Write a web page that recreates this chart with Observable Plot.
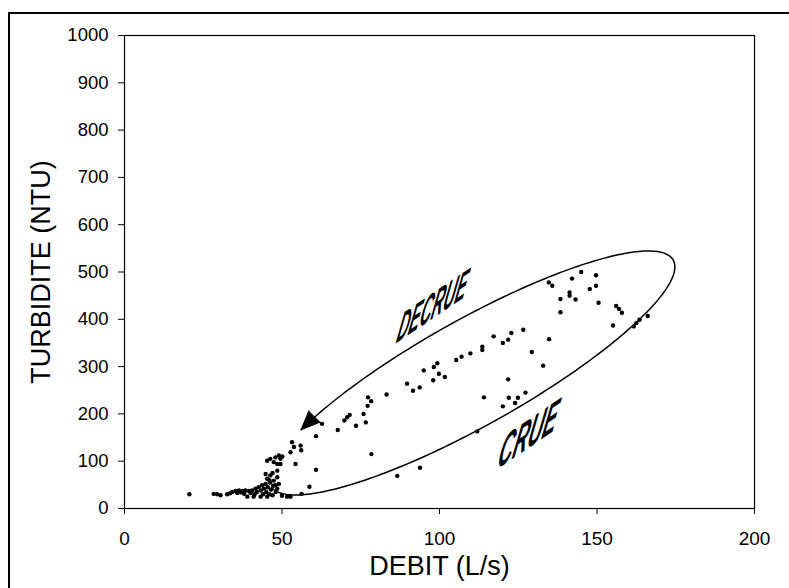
<!DOCTYPE html>
<html><head><meta charset="utf-8">
<script src="https://cdn.jsdelivr.net/npm/d3@7"></script>
<script src="https://cdn.jsdelivr.net/npm/@observablehq/plot@0.6"></script>
<style>
body{margin:0;background:#fff}
#wrap{position:relative;width:789px;height:588px;overflow:hidden;background:#fff}
#chart{position:absolute;left:0;top:0}
#border{position:absolute;left:8px;top:12px;width:800px;height:600px;border-top:2px solid #000;border-left:2px solid #000;pointer-events:none}
</style></head><body>
<div id="wrap"><div id="chart"></div><div id="border"></div></div>
<script>
// Discharge (L/s)
const debit = [
  20.6,28.3,29.4,30.5,32.6,33.5,34.2,35.2,35.8,36.3,37.0,37.4,38.0,38.4,39.0,39.5,40.0,40.5,41.0,41.3,
  41.6,42.0,42.6,43.2,43.3,43.7,44.0,44.3,44.8,45.0,45.3,45.5,46.0,46.2,46.5,47.0,47.2,47.9,48.0,49.0,
  48.5,44.8,45.3,46.3,47.4,48.5,46.0,47.0,45.3,46.3,47.9,49.0,49.5,48.5,47.4,49.5,48.5,50.0,51.6,52.7,
  53.2,53.8,52.7,54.3,55.9,56.1,50.1,56.2,58.7,60.8,60.8,62.7,67.7,69.8,70.7,71.5,73.5,76.6,75.9,77.2,
  78.3,77.3,78.4,83.2,86.6,89.7,91.6,93.7,93.8,95.0,98.0,98.2,99.3,99.8,101.7,105.3,107.0,109.8,112.0,113.6,
  113.6,114.1,117.2,120.1,120.1,121.8,121.8,122.8,122.0,124.0,124.9,126.6,127.3,129.3,132.9,134.8,134.7,135.8,138.4,138.4,
  141.3,141.3,142.1,143.2,145.0,147.7,149.7,149.7,150.5,155.1,156.1,157.0,157.9,161.7,162.5,163.5,166.1
];
// Turbidity (NTU)
const turbidite = [
  30,31,30,28,30,32,35,37,33,38,34,37,31,38,25,37,33,38,25,30,
  42,35,45,25,38,49,30,42,52,35,25,45,30,55,40,28,48,49,35,52,
  42,73,63,70,59,66,60,75,101,105,108,112,105,94,98,94,80,27,25,25,
  140,130,119,94,133,123,110,31,46,82,153,179,166,186,193,198,175,182,200,217,
  227,235,115,241,69,264,249,256,86,292,271,299,307,285,278,314,321,328,163,342,
  335,235,364,350,216,357,273,371,234,223,234,378,245,331,302,358,478,471,443,415,
  457,450,486,442,500,464,493,471,435,387,428,422,414,385,392,399,407
];
const xTicks = [0, 50, 100, 150, 200];
const yTicks = [0, 100, 200, 300, 400, 500, 600, 700, 800, 900, 1000];
const xTitle = "DEBIT (L/s)";
const yTitle = "TURBIDITE (NTU)";
// Hysteresis annotations (position in data units, font size, horizontal squeeze)
const noteText = ["DECRUE", "CRUE"];
const noteDebit = [97.9, 128.3];
const noteTurb = [427, 156];
const noteSize = [37, 41];
const noteSqueeze = [0.44, 0.5];
// Hysteresis loop (ellipse in data units: centre + conjugate semi-axes), swept angle range in degrees
const loopCentre = [110.3, 286.5];
const loopAxisA = [63.9, 238.7];
const loopAxisB = [8.22, -97.7];
const loopStart = 178, loopEnd = -140;

const points = debit.map((d, i) => ({debit: d, turbidite: turbidite[i]}));
const notes = noteText.map((t, i) => ({t, x: noteDebit[i], y: noteTurb[i], s: noteSize[i]}));
const N = 240;
const loop = d3.range(N + 1).map(k => {
  const p = (loopStart + (loopEnd - loopStart) * k / N) * Math.PI / 180;
  return {
    x: loopCentre[0] + Math.cos(p) * loopAxisA[0] + Math.sin(p) * loopAxisB[0],
    y: loopCentre[1] + Math.cos(p) * loopAxisA[1] + Math.sin(p) * loopAxisB[1]
  };
});
const tip = loop[loop.length - 1];

const plot = Plot.plot({
  width: 789, height: 588,
  marginLeft: 124, marginRight: 35, marginTop: 35, marginBottom: 80,
  style: {fontFamily: "'Liberation Sans', Arial, sans-serif", background: "white", color: "black"},
  x: {domain: [0, 200]},
  y: {domain: [0, 1000]},
  marks: [
    Plot.frame({stroke: "black", strokeWidth: 1.2}),
    Plot.axisX({ticks: xTicks, tickSize: 6, tickPadding: 17, fontSize: 19, label: null, tickFormat: d => String(d)}),
    Plot.axisY({ticks: yTicks, tickSize: 6, tickPadding: 10, fontSize: 18.5, label: null, tickFormat: d => String(d)}),
    Plot.text([xTitle], {frameAnchor: "bottom", lineAnchor: "middle", textAnchor: "middle", dy: 58, fontSize: 27}),
    Plot.text([yTitle], {frameAnchor: "left", lineAnchor: "middle", textAnchor: "middle", dx: -83, rotate: -90, fontSize: 27}),
    Plot.line(loop, {x: "x", y: "y", stroke: "black", strokeWidth: 1.5}),
    Plot.vector([tip], {x: "x", y: "y", length: 19, r: 8, rotate: 225, anchor: "end", shape: "spike", fill: "black", stroke: "black", strokeWidth: 1}),
    Plot.dot(points, {x: "debit", y: "turbidite", r: 2.2, fill: "black", stroke: "none"}),
    Plot.text(notes, {x: "x", y: "y", text: "t", fontSize: "s", fontWeight: "bold", fontStyle: "italic", fill: "black", lineAnchor: "middle"})
  ]
});
d3.select(plot).selectAll("text").filter(function() { return noteText.includes(this.textContent); })
  .attr("transform", function() {
    const i = noteText.indexOf(this.textContent);
    return (this.getAttribute("transform") || "") + ` skewY(-34) skewX(-15) scale(${noteSqueeze[i]},1)`;
  });
document.getElementById("chart").appendChild(plot);
</script>
</body></html>
